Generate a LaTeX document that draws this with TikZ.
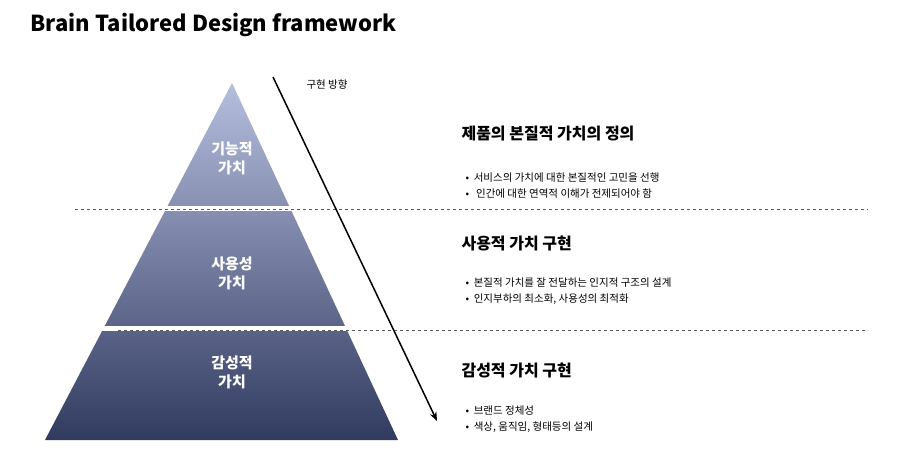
\documentclass[tikz,border=0pt]{standalone}
\usepackage{fontspec}
\setmainfont{Noto Sans CJK KR}
\usetikzlibrary{arrows.meta}
\definecolor{tiptop}{HTML}{B6BEDE}
\definecolor{tipbase}{HTML}{313B60}
\tikzset{
  tierlabel/.style={text=white, font=\fontsize{15}{19}\selectfont\bfseries, align=center},
  headline/.style={anchor=west, font=\fontsize{16}{20}\selectfont\bfseries},
  bullets/.style={anchor=north west, font=\fontsize{10.5}{16}\selectfont, align=left},
  sepline/.style={dashed, gray!70!black, line width=0.8pt}
}
\begin{document}
\begin{tikzpicture}[x=1pt,y=-1pt]
\useasboundingbox (0,0) rectangle (904,470);

\node[anchor=west, font=\fontsize{22}{26}\selectfont\bfseries] (title) at (27,25) {Brain Tailored Design framework};

% pyramid
\shade[top color=tiptop, bottom color=tipbase] (232,83) -- (398,440) -- (45,440) -- cycle;
\fill[white] (0,206) rectangle (420,211);
\fill[white] (0,326) rectangle (420,331);
\draw[sepline] (75,209) -- (868,209);
\draw[sepline] (118,330) -- (868,330);

\node[tierlabel] (fn) at (232,158) {기능적\\가치};
\node[tierlabel] (us) at (232,273) {사용성\\가치};
\node[tierlabel] (em) at (232,372) {감성적\\가치};

% direction
\coordinate (dirA) at (273,77);
\coordinate (dirB) at (437,421);
\draw[line width=1.5pt, -{Stealth[length=9pt,width=7pt]}] (dirA) -- (dirB);
\node[anchor=west, font=\fontsize{10.5}{12}\selectfont] (dir) at (303,85) {구현 방향};

\node[headline] (h1) at (458,134) {제품의 본질적 가치의 정의};
\node[bullets] (b1) at (462,169) {• \ 서비스의 가치에 대한 본질적인 고민을 선행\\• \ \ 인간에 대한 연역적 이해가 전제되어야 함};
\node[headline] (h2) at (458,243) {사용적 가치 구현};
\node[bullets] (b2) at (462,274) {• \ 본질적 가치를 잘 전달하는 인지적 구조의 설계\\• \ 인지부하의 최소화, 사용성의 최적화};
\node[headline] (h3) at (458,370) {감성적 가치 구현};
\node[bullets] (b3) at (462,402) {• \ 브랜드 정체성\\• \ 색상, 움직임, 형태등의 설계};
\end{tikzpicture}
\end{document}
